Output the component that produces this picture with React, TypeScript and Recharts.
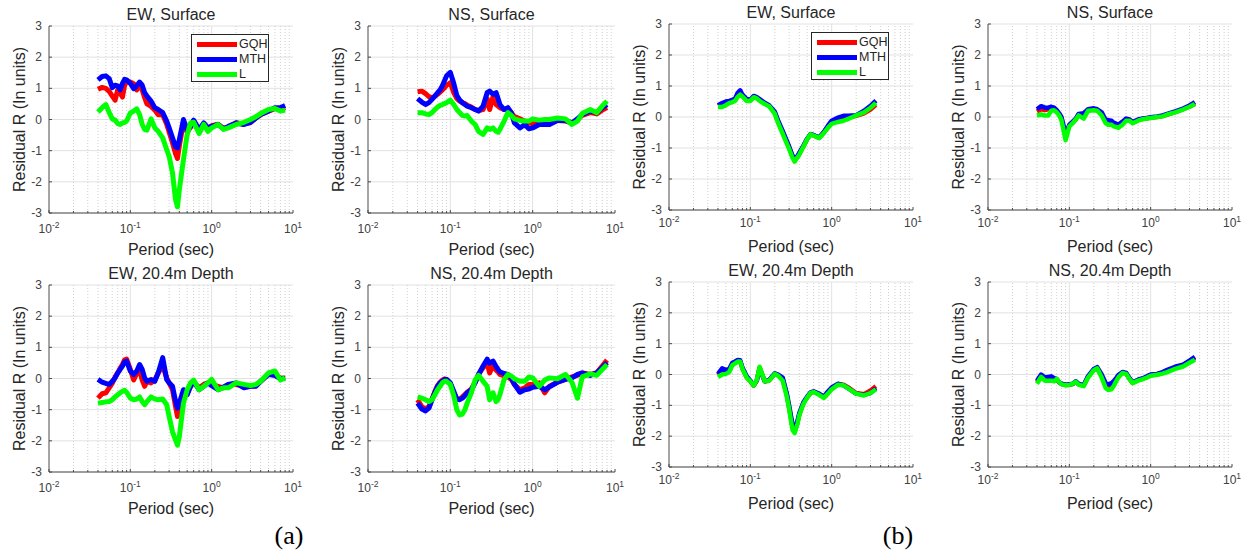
import React from 'react';
import { LineChart, Line, XAxis, YAxis, CartesianGrid, ReferenceLine, Legend } from 'recharts';

// ---------- data ----------
const periodsA = [0.04,0.045,0.05,0.055,0.06,0.065,0.07,0.075,0.08,0.085,0.09,0.1,0.11,0.12,0.13,0.14,0.15,0.16,0.18,0.2,0.22,0.25,0.28,0.3,0.33,0.36,0.38,0.4,0.45,0.5,0.55,0.6,0.7,0.8,0.9,1.0,1.2,1.4,1.6,2.0,2.5,3.0,3.5,4,5,6,7,8];
const periodsB = [0.04,0.045,0.05,0.055,0.06,0.065,0.07,0.075,0.08,0.09,0.1,0.11,0.12,0.13,0.15,0.17,0.2,0.22,0.25,0.28,0.3,0.33,0.35,0.38,0.4,0.45,0.5,0.55,0.6,0.7,0.8,0.9,1.0,1.2,1.4,1.6,2.0,2.5,3.0,3.5];

// (a) EW, Surface
const aEwSurfGQH = [0.97,1.03,1.0,0.9,0.75,0.62,0.95,0.85,0.72,1.1,1.2,1.2,1.15,0.95,1.1,0.95,0.7,0.5,0.42,0.3,0.15,0.15,-0.15,-0.4,-0.75,-1.1,-1.25,-0.85,-0.1,-0.4,-0.25,-0.05,-0.35,-0.15,-0.3,-0.2,-0.15,-0.28,-0.25,-0.1,-0.15,-0.1,0.05,0.15,0.27,0.35,0.33,0.38];
const aEwSurfMTH = [1.27,1.38,1.4,1.31,1.02,1.1,1.08,0.95,1.16,1.29,1.27,1.16,0.99,1.08,1.2,1.1,0.86,0.75,0.59,0.38,0.32,0.22,-0.05,-0.27,-0.59,-0.88,-0.91,-0.65,0.0,-0.34,-0.22,-0.02,-0.32,-0.11,-0.27,-0.22,-0.16,-0.3,-0.22,-0.11,-0.16,-0.09,0.05,0.16,0.27,0.38,0.38,0.45];
const aEwSurfL = [0.24,0.38,0.48,0.22,0.02,-0.02,-0.13,-0.16,-0.11,-0.09,-0.05,0.21,0.27,0.34,0.16,-0.16,-0.32,-0.34,0.02,-0.27,-0.38,-0.59,-0.97,-1.18,-1.72,-2.58,-2.8,-2.26,-1.29,-0.48,-0.11,-0.09,-0.45,-0.16,-0.38,-0.27,-0.16,-0.32,-0.27,-0.16,-0.09,0.0,0.09,0.19,0.32,0.35,0.27,0.3];

// (a) NS, Surface
const aNsSurfGQH = [0.89,0.91,0.83,0.73,0.7,0.75,0.81,0.88,0.95,1.02,1.1,1.18,0.86,0.67,0.59,0.54,0.51,0.46,0.4,0.32,0.29,0.32,0.67,0.32,0.73,0.48,0.43,0.38,0.32,0.34,0.22,0.09,0.02,-0.05,-0.11,-0.14,-0.13,-0.11,-0.09,-0.03,-0.05,-0.11,0.0,0.13,0.22,0.18,0.3,0.38];
const aNsSurfMTH = [0.67,0.56,0.48,0.54,0.65,0.75,0.86,0.95,1.08,1.24,1.4,1.51,1.16,0.77,0.62,0.54,0.48,0.43,0.38,0.32,0.27,0.43,0.86,0.91,0.81,0.86,0.67,0.48,0.32,0.38,0.22,-0.11,-0.27,-0.16,-0.3,-0.27,-0.16,-0.16,-0.16,-0.03,-0.03,-0.11,0.02,0.16,0.27,0.22,0.38,0.48];
const aNsSurfL = [0.22,0.22,0.18,0.16,0.22,0.32,0.4,0.45,0.48,0.51,0.54,0.62,0.48,0.32,0.22,0.13,0.11,0.13,-0.05,-0.16,-0.38,-0.48,-0.27,-0.32,-0.27,-0.38,-0.41,-0.32,-0.05,0.22,0.13,0.02,-0.03,-0.05,-0.05,0.02,-0.02,0.0,0.0,0.05,0.02,-0.16,-0.05,0.19,0.32,0.22,0.43,0.59];

// (a) EW, 20.4m Depth
const aEwDepGQH = [-0.63,-0.49,-0.46,-0.3,-0.15,0.05,0.18,0.33,0.45,0.6,0.62,0.29,-0.05,0.18,0.24,-0.05,-0.25,-0.09,-0.14,-0.05,0.18,0.4,0.02,-0.14,-0.36,-0.9,-1.22,-0.9,-0.52,-0.46,-0.25,-0.12,-0.3,-0.19,-0.14,-0.19,-0.25,-0.3,-0.19,-0.19,-0.27,-0.25,-0.23,-0.09,0.15,0.1,0.02,0.0];
const aEwDepMTH = [-0.03,-0.12,-0.16,-0.19,-0.09,0.02,0.18,0.29,0.4,0.53,0.56,0.24,0.13,0.24,0.45,0.29,0.02,-0.09,-0.03,-0.09,0.18,0.67,-0.03,-0.14,-0.25,-0.73,-0.95,-0.79,-0.36,-0.52,-0.25,-0.09,-0.36,-0.25,-0.14,-0.23,-0.36,-0.27,-0.19,-0.14,-0.3,-0.25,-0.25,-0.09,0.13,0.1,-0.01,0.02];
const aEwDepL = [-0.79,-0.77,-0.75,-0.74,-0.68,-0.59,-0.52,-0.46,-0.41,-0.38,-0.44,-0.63,-0.68,-0.66,-0.59,-0.74,-0.84,-0.74,-0.59,-0.66,-0.68,-0.66,-0.84,-1.22,-1.71,-1.98,-2.14,-1.87,-0.79,-0.36,-0.14,-0.05,-0.36,-0.25,-0.14,-0.03,-0.36,-0.3,-0.3,-0.14,-0.19,-0.23,-0.19,-0.09,0.18,0.24,-0.05,0.02];

// (a) NS, 20.4m Depth
const aNsDepGQH = [-0.68,-0.9,-0.98,-0.9,-0.66,-0.41,-0.23,-0.12,-0.05,-0.01,-0.03,-0.16,-0.46,-0.66,-0.66,-0.59,-0.52,-0.44,-0.34,-0.12,0.13,0.35,0.49,0.18,0.42,0.27,0.21,0.13,0.08,0.05,-0.03,-0.19,-0.36,-0.3,-0.19,-0.19,-0.14,-0.46,-0.25,-0.12,-0.03,0.05,0.1,0.18,0.13,0.18,0.4,0.59];
const aNsDepMTH = [-0.79,-0.98,-1.04,-0.95,-0.68,-0.44,-0.25,-0.14,-0.09,-0.03,-0.03,-0.14,-0.41,-0.66,-0.68,-0.63,-0.55,-0.46,-0.36,-0.14,0.13,0.4,0.62,0.49,0.56,0.38,0.29,0.21,0.16,0.13,0.02,-0.19,-0.44,-0.36,-0.34,-0.28,-0.25,-0.36,-0.27,-0.12,-0.03,0.02,0.13,0.18,0.1,0.18,0.35,0.51];
const aNsDepL = [-0.59,-0.63,-0.68,-0.74,-0.68,-0.52,-0.36,-0.25,-0.14,-0.09,-0.09,-0.19,-0.55,-1.01,-1.17,-1.14,-1.01,-0.79,-0.46,-0.05,0.1,-0.09,-0.25,-0.68,-0.46,-0.74,-0.68,-0.52,-0.03,0.13,0.08,-0.01,-0.09,-0.09,0.05,0.02,-0.25,-0.05,0.02,-0.01,0.13,-0.12,-0.63,0.05,0.15,0.1,0.29,0.45];

// (b) EW, Surface
const bEwSurfGQH = [0.36,0.4,0.45,0.48,0.5,0.55,0.72,0.8,0.68,0.55,0.54,0.66,0.62,0.55,0.44,0.36,0.14,-0.16,-0.5,-0.8,-0.99,-1.28,-1.39,-1.28,-1.18,-0.94,-0.71,-0.56,-0.59,-0.67,-0.5,-0.32,-0.18,-0.1,-0.06,-0.02,0.04,0.12,0.24,0.39];
const bEwSurfMTH = [0.38,0.45,0.5,0.52,0.55,0.6,0.78,0.86,0.72,0.58,0.56,0.68,0.64,0.58,0.46,0.38,0.17,-0.12,-0.45,-0.76,-0.95,-1.24,-1.34,-1.26,-1.15,-0.92,-0.7,-0.55,-0.58,-0.66,-0.48,-0.28,-0.12,-0.02,0.04,0.04,0.06,0.2,0.36,0.53];
const bEwSurfL = [0.32,0.32,0.38,0.45,0.48,0.52,0.65,0.72,0.66,0.52,0.52,0.64,0.6,0.52,0.42,0.35,0.1,-0.2,-0.54,-0.85,-1.03,-1.32,-1.44,-1.3,-1.22,-0.95,-0.72,-0.56,-0.6,-0.68,-0.52,-0.35,-0.22,-0.16,-0.12,-0.06,0.05,0.15,0.3,0.45];

// (b) NS, Surface
const bNsSurfGQH = [0.18,0.25,0.22,0.25,0.3,0.28,0.2,0.1,-0.05,-0.6,-0.28,-0.18,-0.08,0.08,0.05,0.22,0.25,0.22,0.1,-0.15,-0.18,-0.2,-0.25,-0.28,-0.3,-0.2,-0.08,-0.1,-0.18,-0.1,-0.06,-0.04,-0.02,0.0,0.03,0.08,0.16,0.25,0.33,0.43];
const bNsSurfMTH = [0.25,0.35,0.3,0.3,0.33,0.3,0.22,0.12,0.0,-0.55,-0.25,-0.15,-0.05,0.1,0.12,0.25,0.28,0.25,0.15,-0.1,-0.1,-0.12,-0.18,-0.22,-0.25,-0.15,-0.05,-0.08,-0.16,-0.08,-0.05,-0.03,-0.01,0.02,0.05,0.1,0.18,0.27,0.37,0.48];
const bNsSurfL = [0.05,0.08,0.05,0.05,0.2,0.22,0.15,0.05,-0.1,-0.75,-0.3,-0.2,-0.08,0.05,-0.05,0.2,0.22,0.2,0.05,-0.2,-0.25,-0.25,-0.3,-0.33,-0.35,-0.25,-0.12,-0.12,-0.2,-0.12,-0.07,-0.05,-0.03,0.0,0.02,0.08,0.15,0.24,0.33,0.42];

// (b) EW, 20.4m Depth
const bEwDepGQH = [-0.02,0.12,0.1,0.14,0.34,0.38,0.44,0.43,0.2,-0.08,-0.22,-0.36,-0.2,0.22,-0.22,-0.2,0.02,-0.02,-0.15,-0.65,-1.08,-1.7,-1.85,-1.55,-1.3,-0.92,-0.74,-0.6,-0.56,-0.64,-0.74,-0.6,-0.45,-0.32,-0.33,-0.42,-0.6,-0.64,-0.52,-0.38];
const bEwDepMTH = [0.02,0.2,0.15,0.18,0.38,0.42,0.47,0.46,0.22,-0.05,-0.2,-0.35,-0.2,0.2,-0.22,-0.18,0.04,0.0,-0.1,-0.6,-1.0,-1.62,-1.8,-1.5,-1.25,-0.9,-0.72,-0.58,-0.55,-0.62,-0.72,-0.55,-0.42,-0.3,-0.35,-0.45,-0.62,-0.66,-0.6,-0.45];
const bEwDepL = [-0.08,0.0,0.02,0.08,0.3,0.36,0.42,0.42,0.18,-0.1,-0.22,-0.36,-0.18,0.25,-0.22,-0.2,0.02,-0.04,-0.2,-0.7,-1.12,-1.8,-1.9,-1.6,-1.32,-0.95,-0.75,-0.6,-0.57,-0.66,-0.76,-0.62,-0.48,-0.33,-0.35,-0.45,-0.62,-0.68,-0.6,-0.48];

// (b) NS, 20.4m Depth
const bNsDepGQH = [-0.25,-0.03,-0.15,-0.12,-0.1,-0.15,-0.16,-0.26,-0.3,-0.34,-0.33,-0.31,-0.24,-0.32,-0.36,-0.07,0.15,0.2,-0.05,-0.34,-0.38,-0.34,-0.28,-0.14,-0.05,0.06,0.04,-0.14,-0.27,-0.18,-0.14,-0.08,-0.02,0.0,0.06,0.12,0.22,0.3,0.42,0.53];
const bNsDepMTH = [-0.2,0.0,-0.1,-0.08,-0.06,-0.12,-0.15,-0.25,-0.3,-0.33,-0.32,-0.3,-0.22,-0.3,-0.35,-0.05,0.18,0.24,0.0,-0.28,-0.32,-0.28,-0.22,-0.1,-0.02,0.08,0.05,-0.12,-0.25,-0.17,-0.12,-0.06,0.0,0.02,0.08,0.15,0.25,0.32,0.45,0.57];
const bNsDepL = [-0.3,-0.08,-0.2,-0.2,-0.2,-0.22,-0.14,-0.25,-0.32,-0.35,-0.34,-0.3,-0.24,-0.33,-0.38,-0.1,0.14,0.2,-0.1,-0.44,-0.5,-0.48,-0.38,-0.2,-0.1,0.05,0.02,-0.15,-0.28,-0.2,-0.15,-0.1,-0.04,-0.01,0.03,0.08,0.18,0.26,0.38,0.48];

const xTicks = [0.01,0.02,0.03,0.04,0.05,0.06,0.07,0.08,0.09,0.1,0.2,0.3,0.4,0.5,0.6,0.7,0.8,0.9,1,2,3,4,5,6,7,8,9,10];
const xMajorGrid = [0.1, 1];
const xMinorGrid = [0.02,0.03,0.04,0.05,0.06,0.07,0.08,0.09,0.2,0.3,0.4,0.5,0.6,0.7,0.8,0.9,2,3,4,5,6,7,8,9];
const yTicks = [-3,-2,-1,0,1,2,3];
const seriesNames = ['GQH', 'MTH', 'L'];

// ---------- styling ----------
const AX = '#4a4a4a';
const TICK = '#404040';
const LBL = '#262626';
const FONT = '"Liberation Sans", Arial, Helvetica, sans-serif';
const ML = 60, MT = 30, MR = 12, MB = 52, YW = 40, XH = 45;

const isDecade = (v: number) => Math.abs(Math.log10(v) - Math.round(Math.log10(v))) < 1e-6;

const makeXTickBottom = (labelDy: number) => (props: any) => {
  const { x, y, payload } = props;
  const v = payload.value;
  const major = isDecade(v);
  const exp = Math.round(Math.log10(v));
  return (
    <g>
      <line x1={x} x2={x} y1={y} y2={y - (major ? 3 : 2)} stroke={AX} strokeWidth={1} />
      {major && (
        <text x={x} y={y + labelDy} textAnchor="middle" fontSize={12} fill={TICK}>
          <tspan>10</tspan>
          <tspan dy={-5} fontSize={8.5}>{exp}</tspan>
        </text>
      )}
    </g>
  );
};

const XTickTop = (props: any) => {
  const { x, y, payload } = props;
  const major = isDecade(payload.value);
  return <line x1={x} x2={x} y1={y} y2={y + (major ? 3 : 2)} stroke={AX} strokeWidth={1} />;
};

const YTickLeft = (props: any) => {
  const { x, y, payload } = props;
  return (
    <g>
      <line x1={x} x2={x + 3} y1={y} y2={y} stroke={AX} strokeWidth={1} />
      <text x={x - 7} y={y + 4} textAnchor="end" fontSize={12} fill={TICK}>{payload.value}</text>
    </g>
  );
};

const YTickRight = (props: any) => {
  const { x, y } = props;
  return <line x1={x} x2={x - 3} y1={y} y2={y} stroke={AX} strokeWidth={1} />;
};

const LegendBox = (props: any) => {
  const items = [...(props.payload || [])].sort(
    (a: any, b: any) => seriesNames.indexOf(a.value) - seriesNames.indexOf(b.value)
  );
  return (
    <div style={{ width: 78, height: 48, border: '1px solid #262626', background: '#fff', boxSizing: 'border-box', padding: '2px 0 0 5px', fontFamily: FONT }}>
      {items.map((e: any) => (
        <div key={e.value} style={{ display: 'flex', alignItems: 'center', height: 15 }}>
          <span style={{ display: 'inline-block', width: 40, height: 5, background: e.color, marginRight: 2 }} />
          <span style={{ fontSize: 12.5, color: LBL, lineHeight: '15px' }}>{e.value}</span>
        </div>
      ))}
    </div>
  );
};

type PanelProps = {
  x: number; y: number; w: number; h: number; title: string;
  periods: number[]; gqh: number[]; mth: number[]; l: number[];
  legend?: boolean; sw: number; tickDy: number;
};

function Panel(p: PanelProps) {
  const data = p.periods.map((t, i) => ({ t, GQH: p.gqh[i], MTH: p.mth[i], L: p.l[i] }));
  const W = p.w + ML + MR;
  const H = p.h + MT + MB;
  return (
    <div style={{ position: 'absolute', left: p.x - ML, top: p.y - MT, width: W, height: H }}>
      <div style={{ position: 'absolute', left: ML, width: p.w, top: MT - 21, height: 20, lineHeight: '20px', textAlign: 'center', fontSize: 16, color: LBL }}>{p.title}</div>
      <LineChart width={W} height={H} data={data} margin={{ top: MT, right: MR, bottom: MB - XH, left: ML - YW }}>
        <CartesianGrid vertical={false} stroke="#e2e2e2" />
        {xMinorGrid.map((v) => (
          <ReferenceLine key={'m' + v} x={v} stroke="#cfcfcf" strokeDasharray="1 2" strokeWidth={1} />
        ))}
        {xMajorGrid.map((v) => (
          <ReferenceLine key={'M' + v} x={v} stroke="#e2e2e2" strokeWidth={1} />
        ))}
        <XAxis dataKey="t" type="number" scale="log" domain={[0.01, 10]} allowDataOverflow ticks={xTicks} interval={0}
          height={XH} tickSize={0} tickMargin={0} axisLine={{ stroke: AX }} tickLine={false}
          tick={makeXTickBottom(p.tickDy)}
          label={{ value: 'Period (sec)', position: 'insideBottom', offset: XH - 42, fill: LBL, fontSize: 16 }} />
        <XAxis xAxisId="top" orientation="top" dataKey="t" type="number" scale="log" domain={[0.01, 10]} allowDataOverflow
          ticks={xTicks} interval={0} height={0} tickSize={0} tickMargin={0} axisLine={{ stroke: AX }} tickLine={false} tick={XTickTop} />
        <YAxis type="number" domain={[-3, 3]} ticks={yTicks} interval={0} allowDataOverflow width={YW}
          tickSize={0} tickMargin={0} axisLine={{ stroke: AX }} tickLine={false} tick={YTickLeft}
          label={{ value: 'Residual R (In units)', angle: -90, position: 'insideLeft', offset: YW - 30, style: { textAnchor: 'middle' }, fill: LBL, fontSize: 16 }} />
        <YAxis yAxisId="right" orientation="right" type="number" domain={[-3, 3]} ticks={yTicks} interval={0} allowDataOverflow width={0}
          tickSize={0} tickMargin={0} axisLine={{ stroke: AX }} tickLine={false} tick={YTickRight} />
        <Line dataKey="GQH" name={seriesNames[0]} stroke="#ff0000" strokeWidth={p.sw} dot={false} isAnimationActive={false} strokeLinejoin="round" />
        <Line dataKey="MTH" name={seriesNames[1]} stroke="#0000ff" strokeWidth={p.sw} dot={false} isAnimationActive={false} strokeLinejoin="round" />
        <Line dataKey="L" name={seriesNames[2]} stroke="#00ff00" strokeWidth={p.sw} dot={false} isAnimationActive={false} strokeLinejoin="round" />
        {p.legend && (
          <Legend layout="vertical" align="center" verticalAlign="middle" content={LegendBox}
            wrapperStyle={{ left: ML + 142, top: MT + 8, width: 'auto', height: 'auto' }} />
        )}
      </LineChart>
    </div>
  );
}

export default function App() {
  return (
    <div style={{ position: 'absolute', left: 0, top: 0, width: 1244, height: 555, background: '#fff', fontFamily: FONT, overflow: 'hidden' }}>
      <Panel x={49} y={26} w={244} h={187} title="EW, Surface" periods={periodsA} gqh={aEwSurfGQH} mth={aEwSurfMTH} l={aEwSurfL} legend sw={5} tickDy={20} />
      <Panel x={368} y={26} w={247} h={187} title="NS, Surface" periods={periodsA} gqh={aNsSurfGQH} mth={aNsSurfMTH} l={aNsSurfL} sw={5} tickDy={20} />
      <Panel x={49} y={285} w={244} h={187} title="EW, 20.4m Depth" periods={periodsA} gqh={aEwDepGQH} mth={aEwDepMTH} l={aEwDepL} sw={5} tickDy={20} />
      <Panel x={368} y={285} w={247} h={187} title="NS, 20.4m Depth" periods={periodsA} gqh={aNsDepGQH} mth={aNsDepMTH} l={aNsDepL} sw={5} tickDy={20} />
      <Panel x={669} y={24} w={244} h={186} title="EW, Surface" periods={periodsB} gqh={bEwSurfGQH} mth={bEwSurfMTH} l={bEwSurfL} legend sw={4.5} tickDy={17} />
      <Panel x={988} y={24} w={244} h={186} title="NS, Surface" periods={periodsB} gqh={bNsSurfGQH} mth={bNsSurfMTH} l={bNsSurfL} sw={4.5} tickDy={17} />
      <Panel x={669} y={282} w={244} h={185} title="EW, 20.4m Depth" periods={periodsB} gqh={bEwDepGQH} mth={bEwDepMTH} l={bEwDepL} sw={4.5} tickDy={17} />
      <Panel x={988} y={282} w={244} h={185} title="NS, 20.4m Depth" periods={periodsB} gqh={bNsDepGQH} mth={bNsDepMTH} l={bNsDepL} sw={4.5} tickDy={17} />
      <div style={{ position: 'absolute', left: 259, width: 60, top: 521, textAlign: 'center', fontSize: 26, lineHeight: '30px', fontFamily: '"Liberation Serif", "Times New Roman", serif', color: '#000' }}>(a)</div>
      <div style={{ position: 'absolute', left: 868, width: 60, top: 521, textAlign: 'center', fontSize: 26, lineHeight: '30px', fontFamily: '"Liberation Serif", "Times New Roman", serif', color: '#000' }}>(b)</div>
    </div>
  );
}
